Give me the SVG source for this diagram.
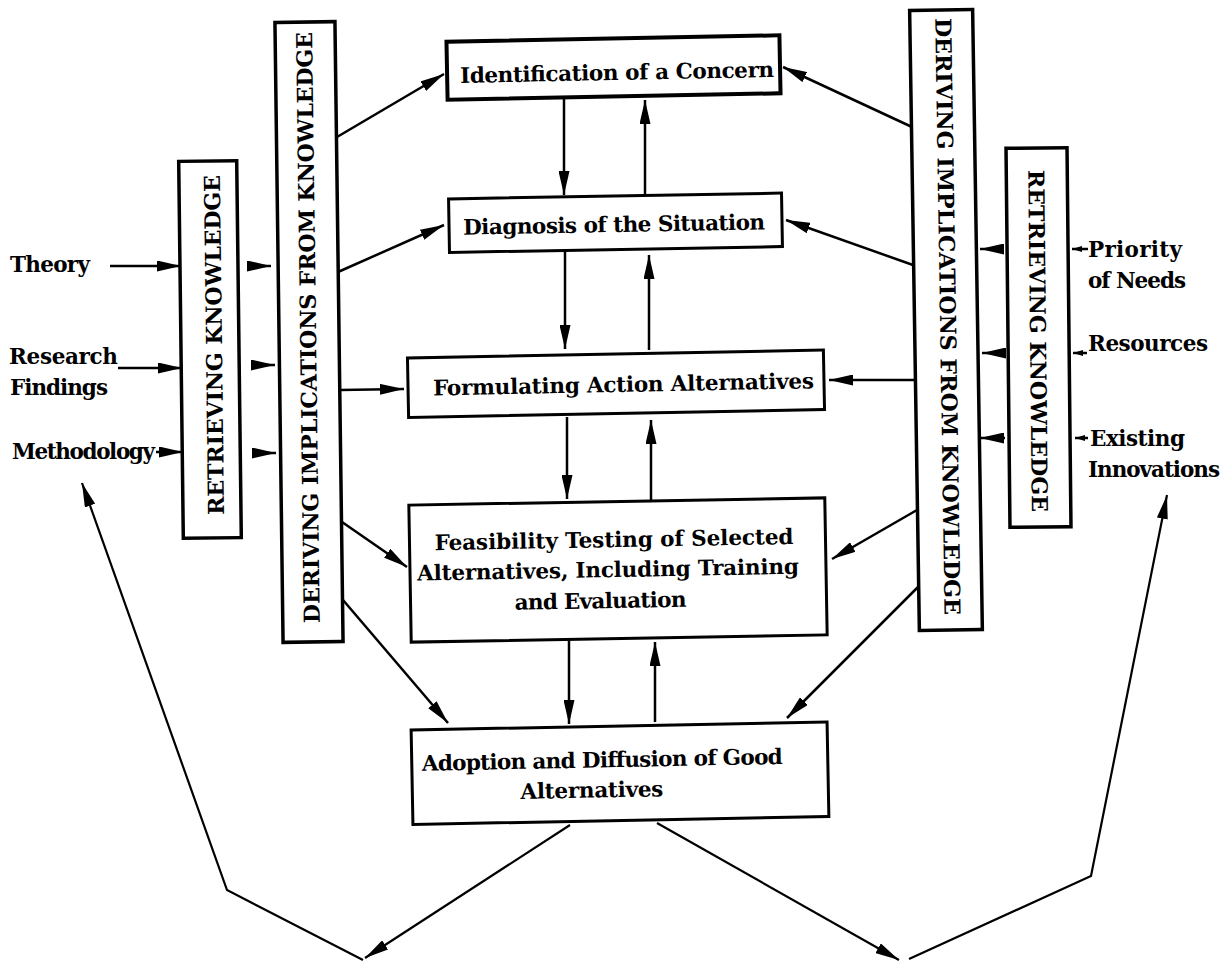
<svg xmlns="http://www.w3.org/2000/svg" width="1229" height="962" viewBox="0 0 1229 962">
  <defs>
    <style>
      .box{fill:#fff;stroke:#000;stroke-width:3}
      .bar{fill:#fff;stroke:#000;stroke-width:3.5}
      .t{font-family:"DejaVu Serif","Liberation Serif",serif;font-weight:bold;font-size:21.5px;fill:#000}
      .vt{font-family:"DejaVu Serif","Liberation Serif",serif;font-weight:bold;font-size:22px;fill:#000;text-anchor:middle}
      .c{fill:none;stroke:#000;stroke-width:2.5}
      .c2{fill:none;stroke:#000;stroke-width:2.2}
    </style>
    <marker id="ah" viewBox="0 0 24 11" markerWidth="24" markerHeight="11" refX="24" refY="5.5" orient="auto" markerUnits="userSpaceOnUse">
      <path d="M0,0 L24,5.5 L0,11 z" fill="#000"/>
    </marker>
    <marker id="as" viewBox="0 0 10 6" markerWidth="10" markerHeight="6" refX="10" refY="3" orient="auto" markerUnits="userSpaceOnUse">
      <path d="M0,0 L10,3 L0,6 z" fill="#000"/>
    </marker>
  </defs>
  <rect width="1229" height="962" fill="#fff"/>

  <!-- central process boxes -->
  <g id="identification" transform="rotate(-1.1 613.5 67.5)">
    <rect class="box" x="447" y="38.5" width="333" height="58" style="stroke-width:4"/>
    <text class="t" x="460" y="80" textLength="314">Identification of a Concern</text>
  </g>
  <g id="diagnosis" transform="rotate(-1 615.5 222.75)">
    <rect class="box" x="449" y="196" width="333" height="53.5"/>
    <text class="t" x="463" y="232" textLength="302">Diagnosis of the Situation</text>
  </g>
  <g id="formulating" transform="rotate(-1.1 616 383.75)">
    <rect class="box" x="408" y="354" width="416" height="59.5"/>
    <text class="t" x="433" y="392" textLength="381">Formulating Action Alternatives</text>
  </g>
  <g id="feasibility" transform="rotate(-1 618 570)">
    <rect class="box" x="410" y="501.5" width="416" height="137"/>
    <text class="t" x="435" y="547" textLength="359">Feasibility Testing of Selected</text>
    <text class="t" x="417" y="577" textLength="382">Alternatives, Including Training</text>
    <text class="t" x="514" y="608" textLength="172">and Evaluation</text>
  </g>
  <g id="adoption" transform="rotate(-1.1 620 773.25)">
    <rect class="box" x="412" y="726" width="416" height="94.5"/>
    <text class="t" x="422" y="767" textLength="361">Adoption and Diffusion of Good</text>
    <text class="t" x="520" y="797" textLength="143">Alternatives</text>
  </g>

  <!-- vertical knowledge bars -->
  <g id="retrieving-left" transform="rotate(-0.7 210 349.5)">
    <rect class="bar" x="181" y="161" width="58" height="377"/>
    <text class="vt" transform="translate(222 345) rotate(-90)" textLength="340">RETRIEVING KNOWLEDGE</text>
  </g>
  <g id="deriving-left" transform="rotate(-0.75 309 332)">
    <rect class="bar" x="279" y="22" width="60" height="620"/>
    <text class="vt" transform="translate(316 327.5) rotate(-90)" textLength="591">DERIVING IMPLICATIONS FROM KNOWLEDGE</text>
  </g>
  <g id="deriving-right" transform="rotate(-0.9 946 320)">
    <rect class="bar" x="914.5" y="10" width="63" height="620"/>
    <text class="vt" transform="translate(940 316.5) rotate(90)" textLength="597">DERIVING IMPLICATIONS FROM KNOWLEDGE</text>
  </g>
  <g id="retrieving-right" transform="rotate(-0.6 1038.5 337.5)">
    <rect class="bar" x="1008" y="148" width="61" height="379"/>
    <text class="vt" transform="translate(1030 341) rotate(90)" textLength="342">RETRIEVING KNOWLEDGE</text>
  </g>

  <!-- input labels -->
  <g id="inputs-left">
    <text class="t" x="10" y="272" textLength="80">Theory</text>
    <text class="t" x="9" y="364" textLength="109">Research</text>
    <text class="t" x="10" y="395" textLength="98">Findings</text>
    <text class="t" x="12" y="459" textLength="143">Methodology</text>
  </g>
  <g id="inputs-right">
    <text class="t" x="1088" y="257" textLength="94">Priority</text>
    <text class="t" x="1088" y="288" textLength="98">of Needs</text>
    <text class="t" x="1088" y="351" textLength="120">Resources</text>
    <text class="t" x="1090" y="446" textLength="95">Existing</text>
    <text class="t" x="1088" y="477" textLength="132">Innovations</text>
  </g>

  <g id="connectors">
    <!-- inputs into retrieving bars -->
    <line class="c" x1="110" y1="266" x2="181" y2="266" marker-end="url(#ah)"/>
    <line class="c" x1="118" y1="368" x2="182" y2="368" marker-end="url(#ah)"/>
    <line class="c" x1="156" y1="452" x2="183" y2="452" marker-end="url(#ah)"/>
    <line class="c" x1="1088" y1="249" x2="1072" y2="249" marker-end="url(#as)"/>
    <line class="c" x1="1087" y1="353" x2="1073" y2="353" marker-end="url(#as)"/>
    <line class="c" x1="1088" y1="438" x2="1075" y2="438" marker-end="url(#as)"/>

    <!-- retrieving to deriving -->
    <line class="c" x1="250" y1="266" x2="271" y2="266" marker-end="url(#ah)"/>
    <line class="c" x1="253" y1="365" x2="275" y2="365" marker-end="url(#ah)"/>
    <line class="c" x1="254" y1="453" x2="276" y2="453" marker-end="url(#ah)"/>
    <line class="c" x1="1004" y1="249" x2="980" y2="249" marker-end="url(#ah)"/>
    <line class="c" x1="1006" y1="353" x2="982" y2="353" marker-end="url(#ah)"/>
    <line class="c" x1="1005" y1="438" x2="980" y2="438" marker-end="url(#ah)"/>

    <!-- deriving bars to process steps -->
    <line class="c" x1="337" y1="137" x2="444" y2="74" marker-end="url(#ah)"/>
    <line class="c" x1="338" y1="272" x2="444" y2="225" marker-end="url(#ah)"/>
    <line class="c" x1="340" y1="390" x2="404" y2="389" marker-end="url(#ah)"/>
    <line class="c" x1="342" y1="522" x2="407" y2="567" marker-end="url(#ah)"/>
    <line class="c" x1="343" y1="600" x2="448" y2="723" marker-end="url(#ah)"/>
    <line class="c" x1="912" y1="127" x2="783" y2="67" marker-end="url(#ah)"/>
    <line class="c" x1="913" y1="265" x2="786" y2="220" marker-end="url(#ah)"/>
    <line class="c" x1="917" y1="380" x2="829" y2="380" marker-end="url(#ah)"/>
    <line class="c" x1="917" y1="510" x2="832" y2="559" marker-end="url(#ah)"/>
    <line class="c" x1="918" y1="587" x2="787" y2="718" marker-end="url(#ah)"/>

    <!-- step to step -->
    <line class="c" x1="564" y1="99" x2="564" y2="195" marker-end="url(#ah)"/>
    <line class="c" x1="645" y1="196" x2="645" y2="100" marker-end="url(#ah)"/>
    <line class="c" x1="565" y1="252" x2="565" y2="349" marker-end="url(#ah)"/>
    <line class="c" x1="649" y1="350" x2="649" y2="255" marker-end="url(#ah)"/>
    <line class="c" x1="567" y1="417" x2="567" y2="499" marker-end="url(#ah)"/>
    <line class="c" x1="651" y1="500" x2="651" y2="420" marker-end="url(#ah)"/>
    <line class="c" x1="569" y1="640" x2="569" y2="724" marker-end="url(#ah)"/>
    <line class="c" x1="655" y1="722" x2="655" y2="642" marker-end="url(#ah)"/>

    <!-- feedback loops back to the inputs -->
    <line class="c2" x1="570" y1="825" x2="365" y2="958" marker-end="url(#ah)"/>
    <polyline class="c2" points="363,960 227,890 82,483" marker-end="url(#ah)"/>
    <line class="c2" x1="657" y1="823" x2="899" y2="960" marker-end="url(#ah)"/>
    <polyline class="c2" points="909,959 1091,876 1167,495" marker-end="url(#ah)"/>
  </g>
</svg>
